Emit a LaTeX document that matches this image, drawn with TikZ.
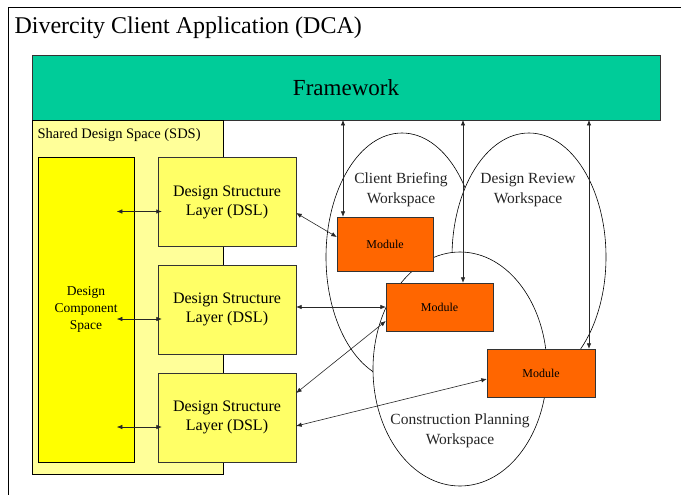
\documentclass[tikz,border=0pt]{standalone}
\usepackage{fontspec}
\setmainfont{Liberation Serif}
\usepackage{tikz}
\usetikzlibrary{shapes.geometric,arrows.meta}

\definecolor{fwgreen}{RGB}{0,204,153}
\definecolor{sdsyellow}{RGB}{255,255,153}
\definecolor{dcsyellow}{RGB}{255,255,0}
\definecolor{dslyellow}{RGB}{255,255,102}
\definecolor{modorange}{RGB}{255,102,0}

\tikzset{
	dslbox/.style={shape=rectangle,draw=black!80,fill=dslyellow,minimum width=138pt,minimum height=89pt,
		align=center,font=\fontsize{16}{19}\selectfont},
	modbox/.style={shape=rectangle,draw=black!80,fill=modorange,minimum height=48pt,font=\fontsize{12}{14}\selectfont},
	wspace/.style={shape=ellipse,draw=black,line width=0.6pt,fill=white,inner sep=0pt},
	wlabel/.style={align=center,text=black!85,font=\fontsize{15.5}{20}\selectfont},
	dbl/.style={{Latex[length=5.5pt,width=4.5pt]}-{Latex[length=5.5pt,width=4.5pt]},draw=black!85,line width=0.6pt}
}

\begin{document}
\begin{tikzpicture}[x=1pt,y=-1pt]
	\useasboundingbox (0,0) rectangle (681,495);
	\draw[line width=0.8pt] (8,495) -- (8,7) -- (681,7);
	\node[anchor=west,font=\fontsize{24}{26}\selectfont] (title) at (11,28) {Divercity Client Application (DCA)};

	\node[shape=rectangle,draw=black!80,fill=fwgreen,minimum width=628pt,minimum height=65pt,font=\fontsize{23}{26}\selectfont] (fw) at (346,87.5) {Framework};
	\node[shape=rectangle,draw=black,fill=sdsyellow,minimum width=191pt,minimum height=354pt] (sds) at (127.5,297) {};
	\node[anchor=west,font=\fontsize{14.5}{16}\selectfont] (sdsl) at (34,135) {Shared Design Space (SDS)};
	\node[shape=rectangle,draw=black,fill=dcsyellow,minimum width=96pt,minimum height=305pt,align=center,font=\fontsize{13.5}{17}\selectfont] (dcs) at (86,309.5) {Design\\Component\\Space};

	\node[dslbox] (dsl1) at (227,202) {Design Structure\\Layer (DSL)};
	\node[dslbox] (dsl2) at (227,309.5) {Design Structure\\Layer (DSL)};
	\node[dslbox] (dsl3) at (227,417.5) {Design Structure\\Layer (DSL)};

	% workspaces
	\node[wspace,minimum width=152pt,minimum height=248pt] (cb) at (402,257) {};
	\node[wspace,minimum width=154pt,minimum height=248pt] (dr) at (529,257) {};
	\node[wspace,minimum width=174pt,minimum height=234pt] (cp) at (460,369) {};
	\node[wlabel] (cbl) at (401,190) {Client Briefing\\Workspace};
	\node[wlabel] (drl) at (528,190) {Design Review\\Workspace};
	\node[wlabel] (cpl) at (460,431) {Construction Planning\\Workspace};

	\node[modbox,minimum width=96pt,minimum height=54pt] (m1) at (385,244) {Module};
	\node[modbox,minimum width=107pt] (m2) at (439.5,307) {Module};
	\node[modbox,minimum width=108pt] (m3) at (541,373) {Module};

	% framework links
	\coordinate (f1) at (343,120);
	\coordinate (f2) at (463,120);
	\coordinate (f3) at (589,120);
	\draw[dbl] (f1) -- (f1 |- m1.north);
	\draw[dbl] (f2) -- (f2 |- m2.north);
	\draw[dbl] (f3) -- (f3 |- m3.north);

	\foreach \i in {1,2,3}
		\draw[dbl] ([xshift=-41pt,yshift=-9.5pt]dsl\i.west) -- ([xshift=4pt,yshift=-9.5pt]dsl\i.west);

	\draw[dbl] ([yshift=-11pt]dsl1.east) -- ([yshift=7pt]m1.west);
	\draw[dbl] (dsl2.east |- m2.west) -- (m2.west);
	\draw[dbl] ([yshift=24.5pt]dsl3.east) -- ([yshift=-14pt]m2.west);
	\draw[dbl] ([yshift=-8.5pt]dsl3.east) -- ([yshift=-6pt]m3.west);
\end{tikzpicture}
\end{document}
